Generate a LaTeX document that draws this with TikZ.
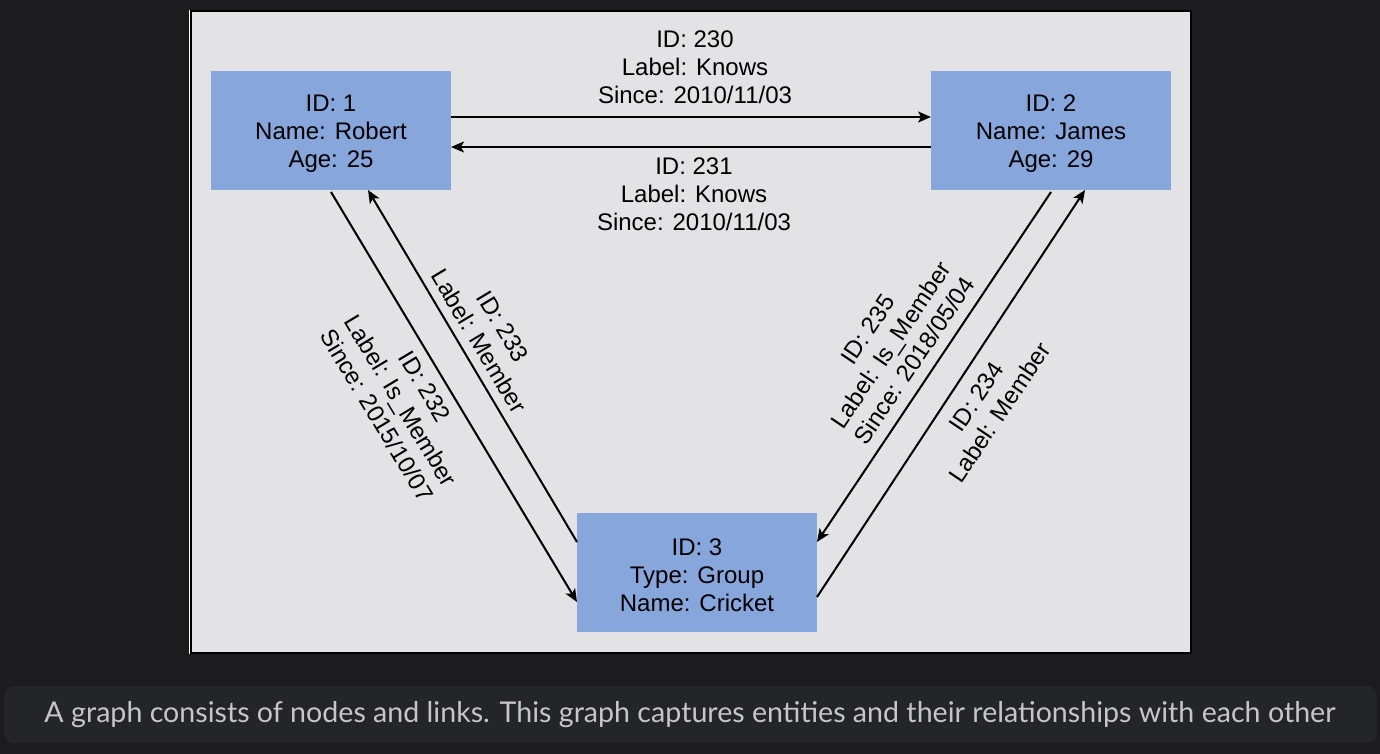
\documentclass[tikz,border=0pt]{standalone}
\usepackage{fontspec}
\setmainfont{Liberation Sans}
\newfontfamily\capfont{Lato}
\usetikzlibrary{arrows.meta}
\definecolor{pagebg}{HTML}{1C1C1E}
\definecolor{framebg}{HTML}{E3E3E6}
\definecolor{nodebg}{HTML}{87A6DB}
\definecolor{capbg}{HTML}{242529}
\definecolor{captext}{HTML}{C6C6CA}
\tikzset{
  entity/.style={fill=nodebg, draw=none, minimum width=120pt, minimum height=59.5pt, outer sep=0pt, inner sep=0pt,
    label={[lbl, yshift=-1.5pt]center:{#1}}},
  lbl/.style={align=center, inner sep=0pt, font=\fontsize{12pt}{14pt}\selectfont},
  link/.style={line width=1pt, -{Stealth[length=6.5pt,width=5.5pt,inset=1.6pt]}},
}
\begin{document}
\begin{tikzpicture}[x=0.5pt,y=-0.5pt]
\useasboundingbox (0,0) rectangle (1380,754);
\fill[pagebg] (0,0) rectangle (1380,754);
% frame
\draw[white, line width=0.5pt] (189,10) -- (189,654);
\draw[fill=framebg, line width=1pt] (190.5,11) rectangle (1190.5,652.5);
% caption
\fill[capbg, rounded corners=5pt] (4,686) rectangle (1377,743);
\node[text=captext, font=\capfont\fontsize{14.3pt}{16pt}\selectfont, inner sep=0pt] (cap) at (690,715)
  {A graph consists of nodes and links. This graph captures entities and their relationships with each other};
% entities
\node[entity={ID: 1\\Name: Robert\\Age: 25}] (n1) at (331,130.5) {};
\node[entity={ID: 2\\Name: James\\Age: 29}] (n2) at (1051,130.5) {};
\node[entity={ID: 3\\Type: Group\\Name: Cricket}] (n3) at (697,572.5) {};
% links
\draw[link] ([yshift=6.75pt]n1.east) -- ([yshift=6.75pt]n2.west);
\draw[link] ([yshift=-8.25pt]n2.west) -- ([yshift=-8.25pt]n1.east);
\draw[link] ([yshift=-1pt]n1.south) -- ([yshift=-14.75pt]n3.west);
\draw[link] ([yshift=15.25pt]n3.west) -- ([xshift=18.5pt]n1.south);
\draw[link] ([yshift=-1pt]n2.south) -- ([yshift=15.25pt]n3.east);
\draw[link] ([yshift=-12.25pt]n3.east) -- ([xshift=17pt]n2.south);
% labels
\node[lbl] (l230) at (695,67) {ID: 230\\Label: Knows\\Since: 2010/11/03};
\node[lbl] (l231) at (694,194) {ID: 231\\Label: Knows\\Since: 2010/11/03};
\node[lbl, rotate=-59] (l232) at (401,401) {ID: 232\\Label: Is\_Member\\Since: 2015/10/07};
\node[lbl, rotate=-59] (l233) at (491,334) {ID: 233\\Label: Member};
\node[lbl, rotate=56] (l235) at (891,345) {ID: 235\\Label: Is\_Member\\Since: 2018/05/04};
\node[lbl, rotate=56] (l234) at (988,405) {ID: 234\\Label: Member};
\end{tikzpicture}
\end{document}
